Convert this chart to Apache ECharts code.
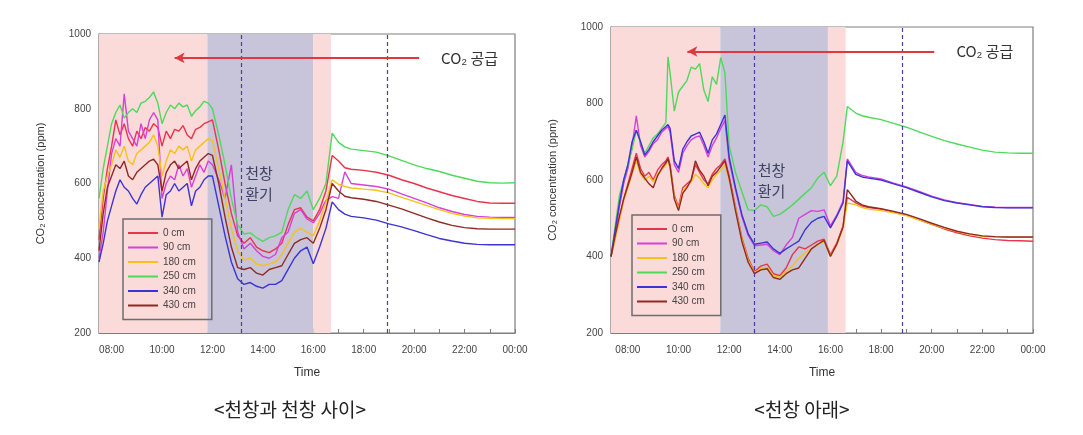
<!DOCTYPE html>
<html><head><meta charset="utf-8">
<script src="https://cdn.jsdelivr.net/npm/echarts@6/dist/echarts.min.js"></script>
<style>html,body{margin:0;padding:0;background:#fff}#c{width:1083px;height:435px}</style>
</head><body><div id="c"></div>
<script>
// ---------- data ----------
const seriesNames = ['0 cm', '90 cm', '180 cm', '250 cm', '340 cm', '430 cm'];
const xTickLabels = ['08:00', '10:00', '12:00', '14:00', '16:00', '18:00', '20:00', '22:00', '00:00'];
const xTickHours = [8, 10, 12, 14, 16, 18, 20, 22, 24];
const yTickLabels = [200, 400, 600, 800, 1000];
const panelCaptions = ['<천창과 천창 사이>', '<천창 아래>'];

const leftTimes = [
  '07:30','07:40','07:50','08:00','08:10','08:20','08:30','08:40','08:50','09:00','09:10','09:20','09:30','09:40','09:50',
  '10:00','10:10','10:20','10:30','10:40','10:50','11:00','11:10','11:20','11:30','11:40','11:50','12:00',
  '12:15','12:30','12:45','13:00','13:15','13:30','13:45','14:00','14:15','14:30','14:45','15:00','15:15','15:30','15:45','16:00','16:15','16:30','16:45',
  '17:00','17:15','17:30','18:00','18:30','19:00','19:30','20:00','20:30','21:00','21:30','22:00','22:30','23:00','23:30','24:00'
];
const left0 = [
  450,560,640,700,770,730,760,720,700,740,720,750,740,760,750,700,740,720,745,740,755,730,720,745,750,760,765,770,
  690,600,520,460,440,455,430,420,415,425,440,490,530,535,510,500,530,580,675,
  660,642,638,635,630,622,610,600,588,578,568,560,552,548,547,547
];
const left90 = [
  400,470,580,680,720,700,840,740,720,700,760,720,770,790,770,560,600,620,610,650,620,640,590,620,650,630,660,650,
  610,560,650,470,425,440,420,405,400,410,455,470,520,530,505,495,520,555,565,
  560,631,600,596,592,585,572,560,548,535,525,517,512,510,509,509
];
const left180 = [
  480,580,620,650,690,670,700,660,650,680,690,700,710,730,700,620,660,690,680,700,690,700,660,690,700,710,720,715,
  640,560,480,420,395,400,385,380,385,390,410,440,470,480,470,460,500,550,610,
  598,592,588,585,582,575,563,552,541,530,520,513,508,507,506,506
];
const left250 = [
  560,640,700,760,790,810,775,790,800,790,815,820,830,845,815,760,790,810,800,815,805,810,780,795,805,820,815,800,
  730,650,560,490,465,468,455,445,455,460,470,530,570,560,580,530,560,600,735,
  710,698,692,688,684,674,662,650,640,632,622,614,606,602,601,602
];
const left340 = [
  390,440,500,540,580,610,590,580,560,545,570,590,600,610,620,510,570,580,600,580,590,600,540,580,590,610,620,620,
  540,460,390,345,330,335,325,320,330,330,340,370,400,420,430,385,430,480,551,
  530,518,512,508,502,492,484,474,463,453,446,440,437,436,436,436
];
const left430 = [
  420,520,590,620,650,640,660,620,610,630,640,650,660,665,650,580,630,650,660,640,650,660,610,640,660,670,680,675,
  600,510,430,375,370,375,360,355,370,375,380,410,440,450,455,440,480,530,600,
  580,566,562,558,552,542,532,520,508,497,488,482,479,478,478,478
];

const rightTimes = [
  '07:20','07:30','07:40','07:50','08:00','08:10','08:20','08:30','08:40','08:50','09:00','09:10','09:20','09:30','09:35','09:40','09:50',
  '10:00','10:10','10:20','10:30','10:40','10:50','11:00','11:10','11:20','11:30','11:40','11:50','12:00',
  '12:15','12:30','12:45','13:00','13:15','13:30','13:45','14:00','14:15','14:30','14:45','15:00','15:15','15:30','15:45','16:00','16:15','16:30','16:40',
  '17:00','17:15','17:30','18:00','18:30','19:00','19:30','20:00','20:30','21:00','21:30','22:00','22:30','23:00','23:30','24:00'
];
const right0 = [
  400,450,500,550,590,630,670,630,610,620,600,625,640,650,660,640,560,530,580,590,600,640,620,600,590,615,630,640,655,610,
  530,450,395,360,375,380,355,350,370,405,425,420,430,440,445,405,435,480,555,
  540,532,528,524,516,508,496,484,472,462,454,448,444,442,441,440
];
const right90 = [
  400,460,530,590,630,690,768,690,660,675,695,705,725,735,740,725,640,620,670,690,705,712,715,690,660,690,710,735,755,650,
  575,505,455,428,430,432,415,405,430,450,500,510,520,518,522,480,508,545,655,
  620,612,608,603,592,582,570,558,548,541,536,531,529,528,528,528
];
const right180 = [
  400,445,495,545,580,615,650,615,600,610,595,615,625,640,650,630,555,525,570,585,595,615,605,590,580,600,615,625,640,600,
  525,445,390,358,368,372,350,345,360,375,395,410,420,430,440,402,430,475,540,
  535,528,524,520,514,507,496,485,474,465,458,453,451,450,450,450
];
const right250 = [
  400,480,560,600,640,680,730,700,670,690,710,720,735,750,922,880,780,830,845,860,895,890,904,835,805,870,850,920,880,690,
  620,570,522,520,535,530,505,510,522,535,550,565,580,605,620,585,610,700,792,
  775,768,764,758,748,738,726,714,703,694,686,678,673,671,670,670
];
const right340 = [
  400,470,540,600,640,700,730,700,665,680,700,715,730,740,745,735,650,630,680,700,715,720,725,700,670,705,720,745,770,660,
  580,510,460,432,435,438,420,408,420,430,440,470,490,500,505,475,505,540,650,
  615,608,605,600,590,580,568,556,546,540,535,530,528,527,527,527
];
const right430 = [
  400,455,505,550,585,620,660,620,605,590,580,610,630,645,655,635,550,520,565,580,600,650,625,610,585,610,620,635,650,605,
  520,440,385,355,365,368,345,340,355,365,370,395,420,432,442,400,432,478,575,
  545,535,530,525,518,510,499,487,476,466,459,454,452,451,451,451
];

// annotation times (hours) / levels (ppm)
const leftSupplyBand = [7.5, 16.7], leftVentBand = [11.8, 16.0], leftDashed = [13.13, 18.94];
const rightSupplyBand = [7.3333, 16.6], rightVentBand = [11.65, 15.9], rightDashed = [13.01, 18.84];
const leftArrow = [20.2, 10.5], rightArrow = [20.1, 10.35], arrowLevel = 936;
const leftSupplyText = [22.2, 936], rightSupplyText = [22.1, 936];
const leftVentText = [13.85, 598], rightVentText = [13.67, 598];

// ---------- helpers ----------
const toH = s => { const [h, m] = s.split(':').map(Number); return h + m / 60; };
const colors = ['#e8344e', '#d540d8', '#f5c21a', '#4fd95c', '#3b33d6', '#8e2a22'];
const PINK = '#fbdada', GRAY = '#c8c4d9';
const AX = '#7f7f7f';
const FONT = '"Liberation Sans", Arial, sans-serif';
const KFONT = '"Noto Sans CJK KR", sans-serif';

function xAxisCfg(gi, min) {
  const ticks = []; for (let h = 8; h <= 24; h++) ticks.push(h);
  return {
    type: 'value', gridIndex: gi, min: min, max: 24,
    name: 'Time', nameLocation: 'middle', nameGap: 34,
    nameTextStyle: { fontFamily: FONT, fontSize: 12, color: '#333' },
    axisLine: { show: true, lineStyle: { color: AX, width: 1.2 } },
    axisTick: { show: true, inside: true, length: 4, customValues: ticks, lineStyle: { color: AX } },
    axisLabel: {
      customValues: xTickHours, margin: 12, fontFamily: FONT, fontSize: 10, color: '#444',
      formatter: v => xTickLabels[xTickHours.indexOf(Math.round(v))] || ''
    },
    splitLine: { show: false }
  };
}
function yAxisCfg(gi) {
  return {
    type: 'value', gridIndex: gi, min: 200, max: 1000, interval: 200,
    name: 'CO₂ concentration (ppm)', nameLocation: 'middle', nameGap: 53,
    nameTextStyle: { fontFamily: FONT, fontSize: 11, color: '#333' },
    axisLine: { show: true, lineStyle: { color: AX, width: 1.2 } },
    axisTick: { show: true, inside: true, length: 4, lineStyle: { color: AX } },
    axisLabel: { margin: 8, fontFamily: FONT, fontSize: 10, color: '#444',
      formatter: v => yTickLabels.includes(v) ? String(v) : '' },
    splitLine: { show: false }
  };
}
function helperSeries(gi, supply, vent, dashed, arrow, supplyText, ventText) {
  return {
    type: 'line', xAxisIndex: gi, yAxisIndex: gi, data: [], silent: true, z: 1,
    markArea: {
      silent: true,
      data: [
        [{ xAxis: supply[0], itemStyle: { color: PINK } }, { xAxis: vent[0] }],
        [{ xAxis: vent[0], itemStyle: { color: GRAY } }, { xAxis: vent[1] }],
        [{ xAxis: vent[1], itemStyle: { color: PINK } }, { xAxis: supply[1] }]
      ]
    },
    markLine: {
      silent: true, symbol: ['none', 'none'], label: { show: false }, animation: false,
      data: [
        { xAxis: dashed[0], lineStyle: { type: [4, 3], color: '#4b3c9e', width: 1.2 } },
        { xAxis: dashed[1], lineStyle: { type: [4, 3], color: '#4b3c9e', width: 1.2 } },
        [
          { coord: [arrow[0], arrowLevel], symbol: 'none', lineStyle: { type: 'solid', color: '#e0383c', width: 2 } },
          { coord: [arrow[1], arrowLevel], symbol: 'arrow', symbolSize: [8, 10] }
        ]
      ]
    },
    markPoint: {
      silent: true, symbol: 'circle', symbolSize: 0, animation: false,
      data: [
        { coord: supplyText, label: { show: true, position: 'inside', formatter: 'CO₂ 공급',
          fontFamily: KFONT, fontSize: 15, color: '#333' } },
        { coord: ventText, label: { show: true, position: 'inside', formatter: '천창\n환기',
          fontFamily: KFONT, fontSize: 15, lineHeight: 21, color: '#3e4262', align: 'center' } }
      ]
    }
  };
}
function dataSeries(gi, times, arrays) {
  return arrays.map((vals, k) => ({
    name: seriesNames[k], type: 'line', xAxisIndex: gi, yAxisIndex: gi, z: 3,
    symbol: 'none', showSymbol: false, animation: false,
    color: colors[k],
    lineStyle: { width: 1.4, color: colors[k] },
    data: times.map((t, i) => [toH(t), vals[i]])
  }));
}
function legendCfg(left, top) {
  return {
    data: seriesNames, orient: 'vertical', left: left, top: top,
    itemWidth: 30, itemHeight: 14, itemGap: 4.5,
    borderColor: '#6d6d6d', borderWidth: 1.5, padding: [9, 16, 9, 5],
    textStyle: { fontFamily: FONT, fontSize: 10, color: '#444' },
    icon: 'path://M0,6 L30,6 L30,8 L0,8 Z', selectedMode: false
  };
}

const chart = echarts.init(document.getElementById('c'), null, { renderer: 'canvas' });
chart.setOption({
  backgroundColor: '#fff',
  animation: false,
  grid: [
    { left: 99, top: 34, width: 416, height: 299, show: true, borderColor: AX, borderWidth: 1.2, backgroundColor: 'transparent' },
    { left: 611, top: 27, width: 422, height: 306, show: true, borderColor: AX, borderWidth: 1.2, backgroundColor: 'transparent' }
  ],
  xAxis: [xAxisCfg(0, 7.5), xAxisCfg(1, 7 + 20 / 60)],
  yAxis: [yAxisCfg(0), yAxisCfg(1)],
  legend: [legendCfg(123, 219), legendCfg(632, 215)],
  series: [
    helperSeries(0, leftSupplyBand, leftVentBand, leftDashed, leftArrow, leftSupplyText, leftVentText),
    ...dataSeries(0, leftTimes, [left0, left90, left180, left250, left340, left430]),
    helperSeries(1, rightSupplyBand, rightVentBand, rightDashed, rightArrow, rightSupplyText, rightVentText),
    ...dataSeries(1, rightTimes, [right0, right90, right180, right250, right340, right430])
  ],
  graphic: [
    { type: 'text', x: 290, y: 410, style: { text: panelCaptions[0], align: 'center', verticalAlign: 'middle',
      fontFamily: KFONT, fontSize: 19, fill: '#222' } },
    { type: 'text', x: 802, y: 410, style: { text: panelCaptions[1], align: 'center', verticalAlign: 'middle',
      fontFamily: KFONT, fontSize: 19, fill: '#222' } }
  ]
});
</script>
</body></html>
